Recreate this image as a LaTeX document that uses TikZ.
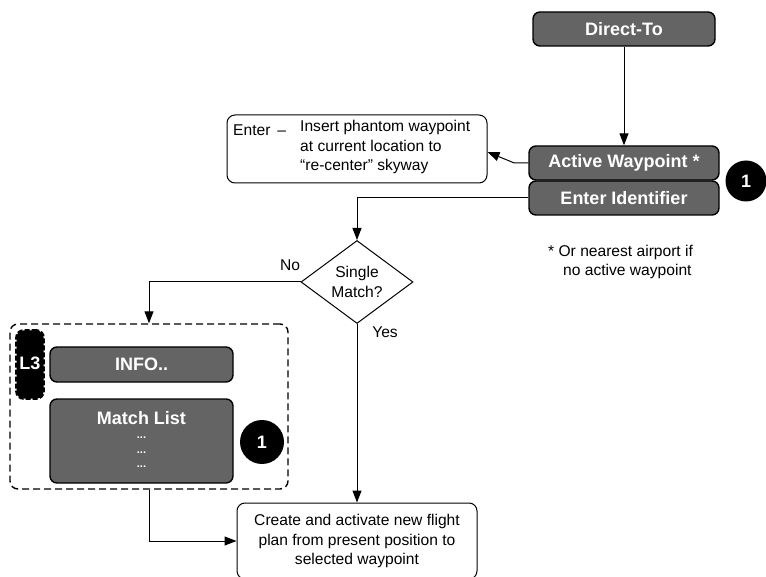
\documentclass[tikz,border=0pt]{standalone}
\usepackage{fontspec}
\setmainfont{Liberation Sans}
\usetikzlibrary{arrows.meta,shapes.geometric,calc}
\definecolor{boxgray}{HTML}{646464}
\tikzset{
  darkbox/.style={draw=black, line width=1.4pt, fill=boxgray, rounded corners=7pt,
    text=white, font=\fontsize{18}{21}\selectfont\bfseries, inner sep=0pt},
  notebox/.style={draw=black, line width=1pt, rounded corners=8pt, fill=white, inner sep=0pt},
  plaintext/.style={font=\fontsize{15.6}{19.5}\selectfont, inner sep=0pt},
  badge/.style={circle, fill=black, text=white, inner sep=0pt,
    font=\fontsize{18}{21}\selectfont\bfseries},
  conn/.style={draw=black, line width=1pt, -{Triangle[length=12pt,width=9pt]}},
  dots/.style={text=white, font=\fontsize{11}{12}\selectfont\bfseries, inner sep=0pt},
}
\begin{document}
\begin{tikzpicture}[x=1pt,y=-1pt]
\useasboundingbox (0,0) rectangle (766,577);
\clip (0,0) rectangle (766,577);
\fill[white] (0,0) rectangle (766,577);

% top boxes
\node[darkbox, minimum width=182pt, minimum height=34pt] (direct) at (624,29) {Direct-To};
\node[darkbox, minimum width=190pt, minimum height=34pt] (aw) at (624,163) {Active Waypoint *};
\node[darkbox, minimum width=190pt, minimum height=34pt] (ei) at (624,198) {Enter Identifier};
\node[badge, minimum size=41pt] (b1) at (746,181) {1};

% note box
\node[notebox, minimum width=260pt, minimum height=68pt] (enter) at (357,149) {};
\node[plaintext, anchor=west] (enterlbl) at (233,130) {Enter \,–};
\node[plaintext, anchor=north west, align=left] (entertxt) at (300,120)
  {Insert phantom waypoint\\at current location to\\“re-center” skyway};

% footnote
\node[plaintext, anchor=west] (fn1) at (548,252) {* Or nearest airport if};
\node[plaintext, anchor=west] (fn2) at (563,271) {no active waypoint};

% decision
\node[draw=black, line width=1pt, diamond, minimum width=112pt, minimum height=83pt,
  inner sep=0pt, plaintext, align=center] (dm) at (357,282) {Single\\Match?};
\node[plaintext] (no) at (290,265) {No};
\node[plaintext] (yes) at (385,332) {Yes};

% dashed group
\node[draw=black, line width=1.4pt, dash pattern=on 7pt off 4pt, rounded corners=8pt,
  minimum width=278pt, minimum height=165pt, inner sep=0pt] (grp) at (149,406.5) {};
\node[fill=black, draw=black, line width=2.6pt, dash pattern=on 5pt off 2pt,
  minimum width=27pt, minimum height=68pt, inner sep=0pt,
  rounded corners=7pt] (l3) at (30,364.5) {};
\node[text=white, font=\fontsize{18}{21}\selectfont\bfseries, inner sep=0pt] (l3txt) at (30,363) {L3};
\node[darkbox, minimum width=183pt, minimum height=35pt] (info) at (141.5,364.5) {INFO..};
\node[darkbox, minimum width=183pt, minimum height=84pt] (ml) at (141.5,441) {};
\node[text=white, font=\fontsize{18}{21}\selectfont\bfseries, inner sep=0pt] (mltxt) at (141.5,418) {Match List};
\node[dots] (d1) at (141.5,438) {...};
\node[dots] (d2) at (141.5,453) {...};
\node[dots] (d3) at (141.5,467) {...};
\node[badge, minimum size=44pt] (b2) at (262,442) {1};

% result
\node[notebox, minimum width=240pt, minimum height=76pt] (create) at (357,541) {};
\node[plaintext, align=center] (createtxt) at (357,541)
  {Create and activate new flight\\plan from present position to\\selected waypoint};

% connectors
\draw[conn] (direct.south) -- (aw.north);
\draw[conn] (aw.west) -- ++(-14,0) -- ([yshift=-3pt]enter.east);
\draw[conn] (ei.west) -| (dm.north);
\draw[conn] (dm.west) -| (grp.north);
\draw[conn] (dm.south) -- (create.north);
\draw[conn] (grp.south) |- (create.west);
\end{tikzpicture}
\end{document}
